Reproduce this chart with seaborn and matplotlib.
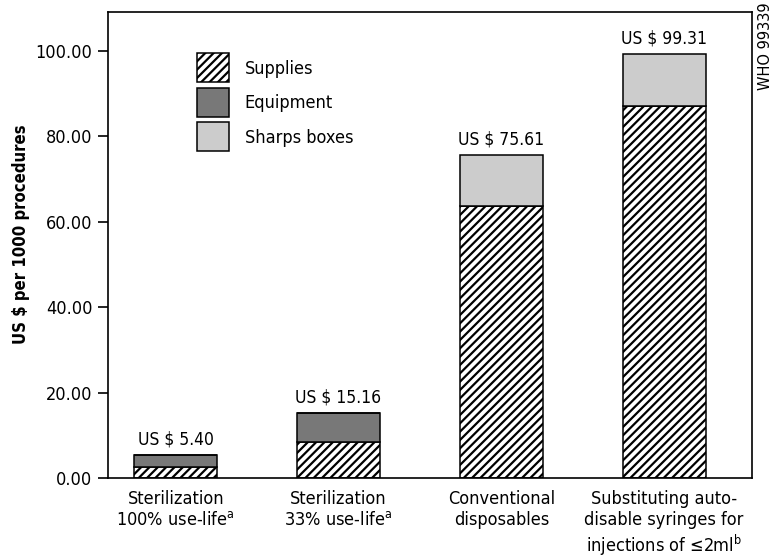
import numpy as np
import pandas as pd
import seaborn as sns
import matplotlib.pyplot as plt

# значения
categories = ['Sterilization\n100% use-life$^{\\mathrm{a}}$',
              'Sterilization\n33% use-life$^{\\mathrm{a}}$',
              'Conventional\ndisposables',
              'Substituting auto-\ndisable syringes for\ninjections of \u22642ml$^{\\mathrm{b}}$']
supplies = [2.6, 8.4, 63.7, 87.1]
equipment = [2.8, 6.76, 0.0, 0.0]
sharps_boxes = [0.0, 0.0, 11.91, 12.21]
totals = [5.40, 15.16, 75.61, 99.31]
yticks = [0, 20, 40, 60, 80, 100]

sns.set_style('white', {'text.color': 'black', 'axes.labelcolor': 'black',
                        'xtick.color': 'black', 'ytick.color': 'black'})
plt.rcParams['font.family'] = ['DejaVu Sans']
plt.rcParams['font.stretch'] = 'condensed'
plt.rcParams['hatch.linewidth'] = 1.6
plt.rcParams['hatch.color'] = 'black'
plt.rcParams['mathtext.fontset'] = 'dejavusans'

df = pd.DataFrame({'cat': categories, 'supplies': supplies,
                   'equipment': equipment, 'sharps': sharps_boxes})

fig = plt.figure(figsize=(7.76, 5.57), dpi=100)
ax = fig.add_axes([0.139, 0.142, 0.83, 0.836])

sns.barplot(data=df, x='cat', y='supplies', color='white', edgecolor='black',
            linewidth=1.1, hatch='////', width=0.51, ax=ax, label='Supplies')
sns.barplot(data=df, x='cat', y='equipment', bottom=df['supplies'], color='#787878',
            edgecolor='black', linewidth=1.1, width=0.51, ax=ax, label='Equipment')
sns.barplot(data=df, x='cat', y='sharps', bottom=df['supplies'] + df['equipment'],
            color='#cccccc', edgecolor='black', linewidth=1.1, width=0.51, ax=ax,
            label='Sharps boxes')

# подписи итогов
for i, t in enumerate(totals):
    ax.text(i, t + 1.5, f'US $ {t:.2f}', ha='center', va='bottom', fontsize=12.5)

ax.set_xlim(-0.417, 3.54)
ax.set_ylim(0, 109.1)
ax.set_yticks(yticks)
ax.set_yticklabels([f'{v:.2f}' for v in yticks], fontsize=13)
ax.tick_params(axis='y', left=True, length=7, width=1.2, direction='out', pad=4)
ax.tick_params(axis='x', bottom=False, pad=5)
plt.setp(ax.get_xticklabels(), fontsize=13, linespacing=1.2)
ax.set_xlabel('')
ax.set_ylabel('US $ per 1000 procedures', fontsize=12, fontweight='bold')
ax.yaxis.set_label_coords(-0.1215, 0.524)
for s in ax.spines.values():
    s.set_color('black')
    s.set_linewidth(1.2)

leg = ax.legend(loc='upper left', bbox_to_anchor=(0.124, 0.931), frameon=False,
                fontsize=13, handlelength=1.8, handleheight=2.1,
                handletextpad=0.85, labelspacing=0.3, borderpad=0)

fig.text(0.986, 0.995, 'WHO 99339', rotation=90, ha='center', va='top',
         fontsize=10.5, fontstretch='normal')

fig.savefig('out.png', dpi=100)
